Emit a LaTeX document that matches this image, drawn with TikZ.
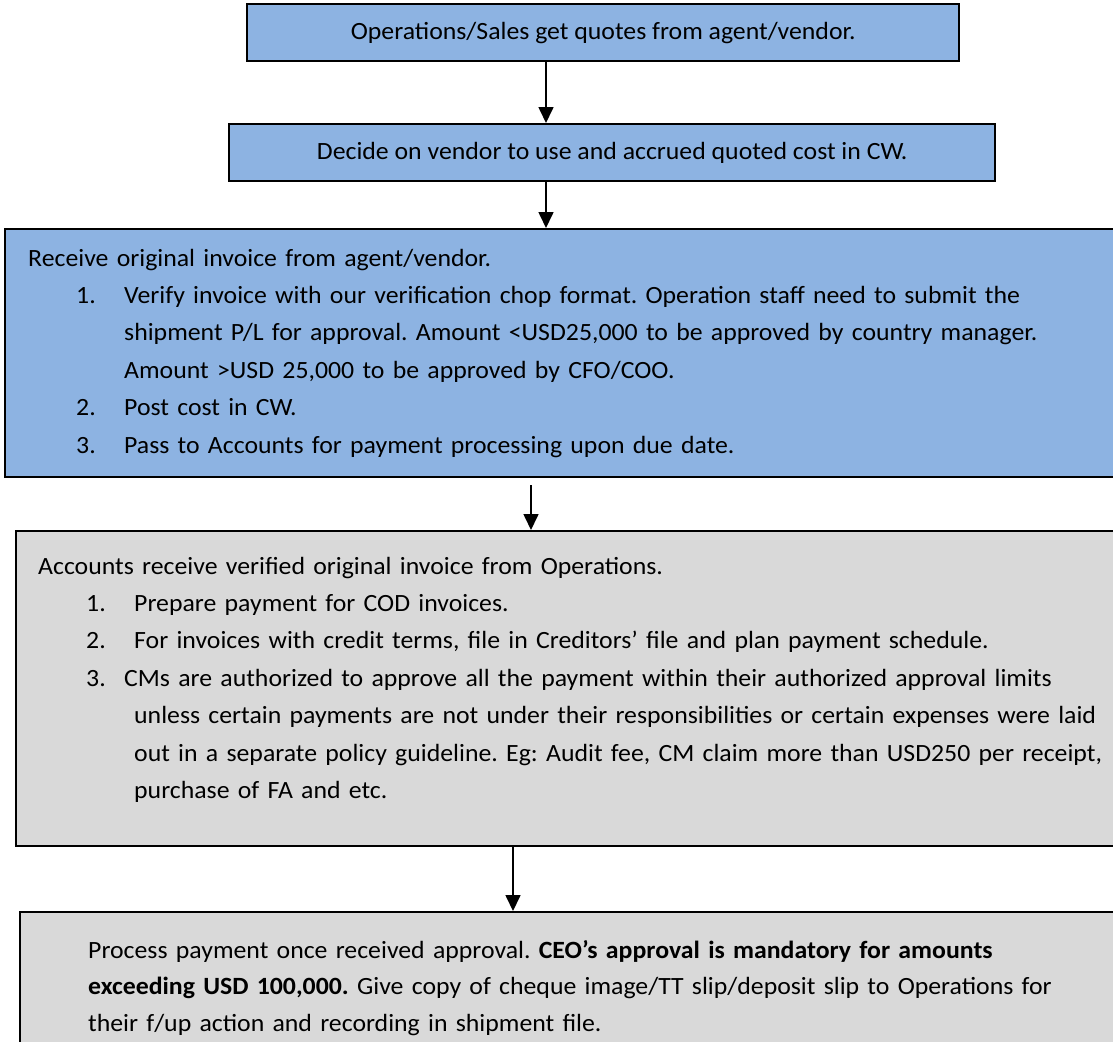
\documentclass[tikz,border=0pt]{standalone}
\usepackage{fontspec}
\setmainfont[FakeStretch=1.04]{Carlito}
\usetikzlibrary{positioning}
\usetikzlibrary{calc}
\usetikzlibrary{arrows.meta}
\definecolor{stepblue}{RGB}{141,179,226}
\definecolor{stepgrey}{RGB}{217,217,217}
\frenchspacing
\newcommand{\itm}[3][24pt]{\par\hangindent=48pt\hangafter=1\noindent\hspace*{24pt}\makebox[#1][l]{#2}#3\par}
\tikzset{
  stepbox/.style={draw=black, line width=1.2pt, anchor=north west,
    font=\fontsize{12.4pt}{18.7pt}\selectfont},
  bluebox/.style={stepbox, fill=stepblue},
  greybox/.style={stepbox, fill=stepgrey},
  flowarrow/.style={line width=0.8pt, -{Triangle[length=8pt,width=7.5pt]}}
}
\begin{document}
\begin{tikzpicture}[x=0.5pt,y=-0.5pt]
\useasboundingbox (0,0) rectangle (1113,1041);

\node [bluebox, minimum width=356pt, minimum height=28.5pt, inner sep=0pt, align=center] (quotes) at (246,3)
  {Operations/Sales get quotes from agent/vendor.};
\node [bluebox, minimum width=383pt, minimum height=28.5pt, inner sep=0pt, align=center] (decide) at (228,123)
  {Decide on vendor to use and accrued quoted cost in CW.};
\node [bluebox, minimum width=600pt, minimum height=124pt, inner xsep=11.5pt, inner ysep=0pt,
  text width=577pt, align=left] (invoice) at (4,228)
  {Receive original invoice from agent/vendor.
   \itm{1.}{Verify invoice with our verification chop format. Operation staff need to submit the\newline
     shipment P/L for approval. Amount <USD25,000 to be approved by country manager.\newline
     Amount >USD 25,000 to be approved by CFO/COO.}
   \itm{2.}{Post cost in CW.}
   \itm{3.}{Pass to Accounts for payment processing upon due date.}};
\node [greybox, minimum width=600pt, minimum height=157.5pt, inner xsep=11pt, inner ysep=0pt,
  text width=578pt, align=left] (accounts) at (15,530)
  {Accounts receive verified original invoice from Operations.
   \itm{1.}{Prepare payment for COD invoices.}
   \itm{2.}{For invoices with credit terms, file in Creditors’ file and plan payment schedule.}
   \itm[19pt]{3.}{CMs are authorized to approve all the payment within their authorized approval limits\newline
     unless certain payments are not under their responsibilities or certain expenses were laid\newline
     out in a separate policy guideline. Eg: Audit fee, CM claim more than USD250 per receipt,\newline
     purchase of FA and etc.\rule[-11pt]{0pt}{0pt}}};
\node [greybox, minimum width=600pt, minimum height=75.5pt, inner xsep=34pt, inner ysep=0pt,
  text width=532pt, align=left, font=\fontsize{12.4pt}{18.2pt}\selectfont] (payment) at (19,911)
  {Process payment once received approval. \textbf{CEO’s approval is mandatory for amounts}\\
   \textbf{exceeding USD 100,000.} Give copy of cheque image/TT slip/deposit slip to Operations for\\
   their f/up action and recording in shipment file.};

\coordinate (a1) at (546,0);
\coordinate (a3) at (531,0);
\coordinate (a4) at (513,0);
\draw [flowarrow] (quotes.south -| a1) -- (decide.north -| a1);
\draw [flowarrow] (decide.south -| a1) -- (invoice.north -| a1);
\draw [flowarrow, shorten <=3.5pt] (invoice.south -| a3) -- (accounts.north -| a3);
\draw [flowarrow] (accounts.south -| a4) -- (payment.north -| a4);
\end{tikzpicture}
\end{document}
